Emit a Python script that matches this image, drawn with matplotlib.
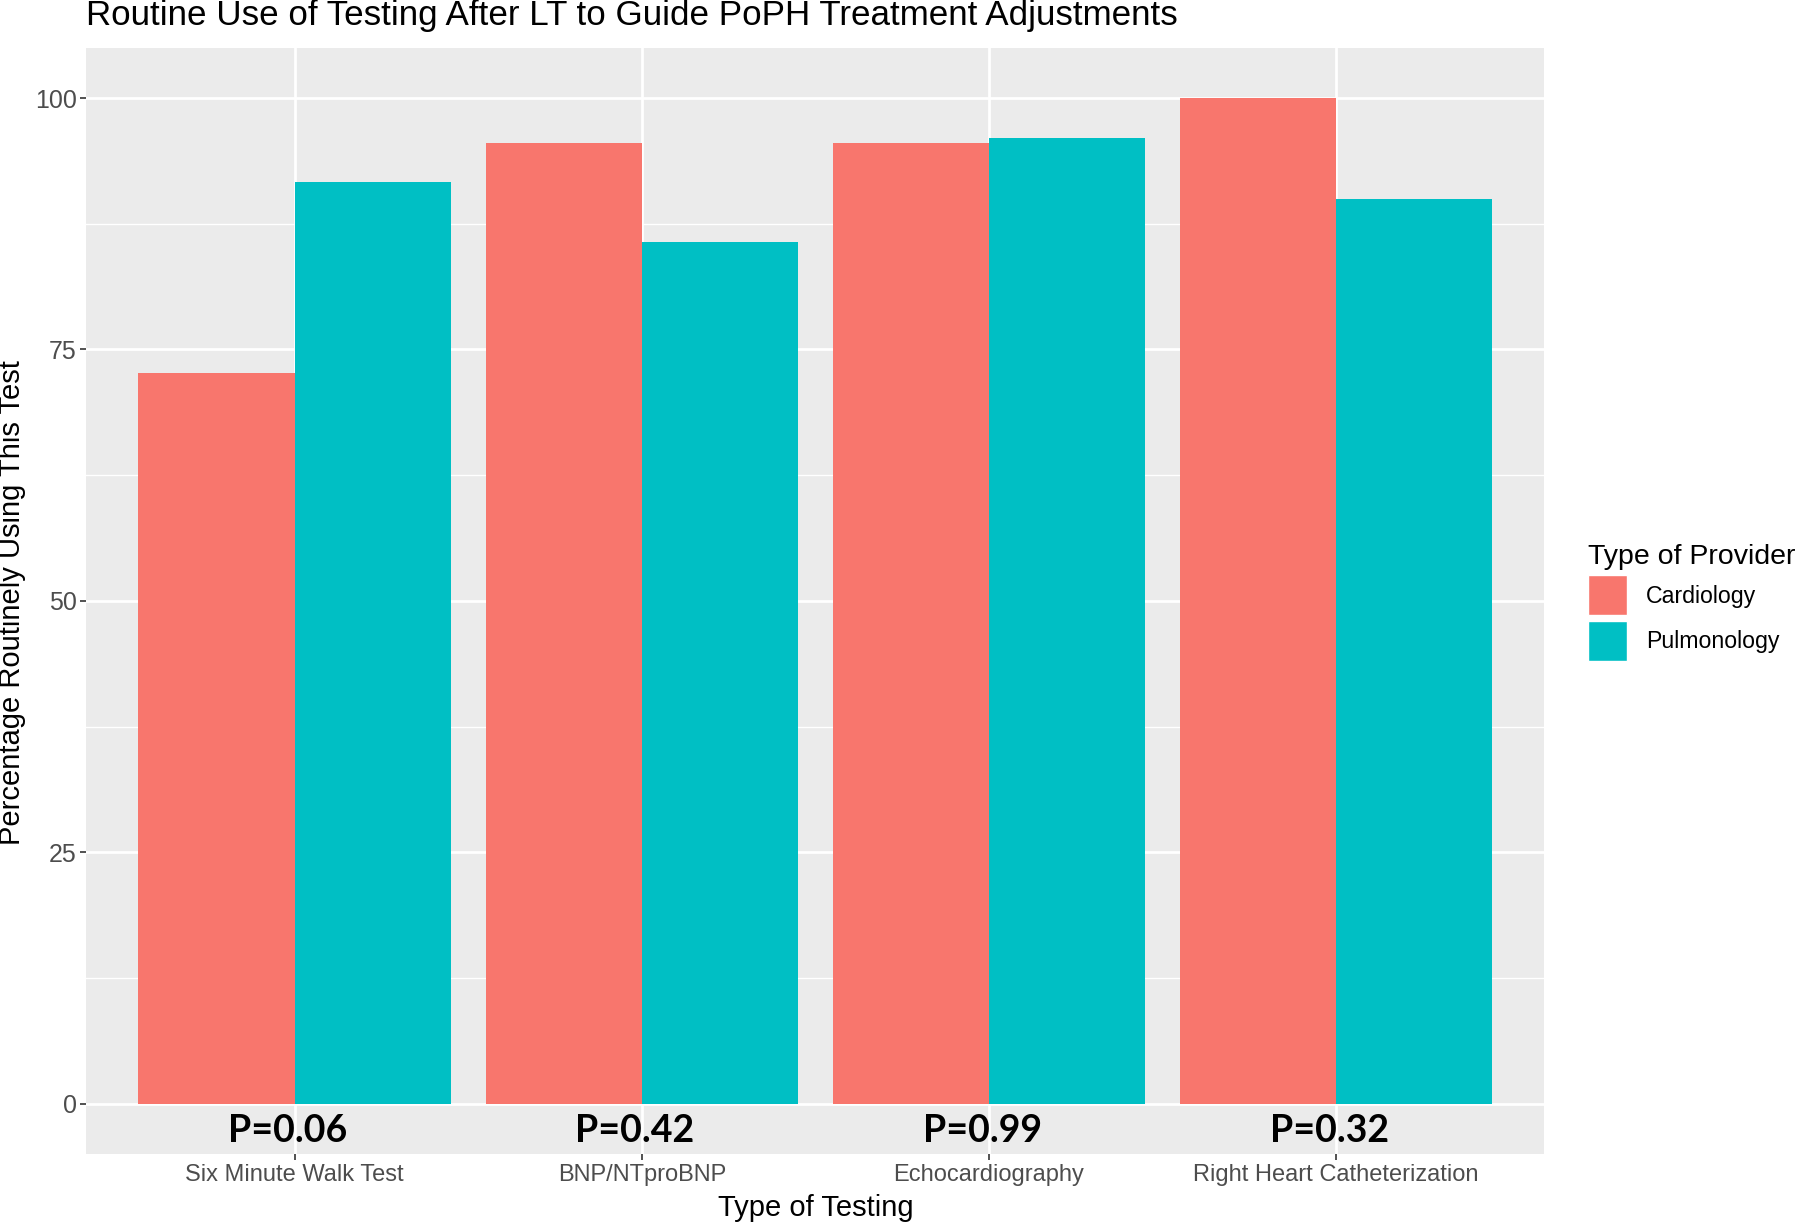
import numpy as np
import matplotlib.pyplot as plt
from matplotlib.patches import Patch

# Daten
categories = ['Six Minute Walk Test', 'BNP/NTproBNP', 'Echocardiography', 'Right Heart Catheterization']
cardiology = [72.7, 95.5, 95.5, 100.0]
pulmonology = [91.7, 85.7, 96.0, 90.0]
p_values = ['P=0.06', 'P=0.42', 'P=0.99', 'P=0.32']
providers = ['Cardiology', 'Pulmonology']
yticks = [0, 25, 50, 75, 100]

col_card = '#F8766D'
col_pulm = '#00BFC4'

plt.rcParams['font.family'] = ['Liberation Sans', 'DejaVu Sans']

fig = plt.figure(figsize=(18, 12.25), dpi=100)
ax = fig.add_axes([0.048, 0.058, 0.81, 0.903])
ax.set_facecolor('#EBEBEB')

x = np.arange(1, len(categories) + 1)
w = 0.45
ax.bar(x - w / 2, cardiology, w, color=col_card)
ax.bar(x + w / 2, pulmonology, w, color=col_pulm)

ax.set_xlim(0.4, 4.6)
ax.set_ylim(-5, 105)
ax.set_xticks(x)
ax.set_xticklabels(categories)
ax.set_yticks(yticks)
ax.set_yticks([12.5, 37.5, 62.5, 87.5], minor=True)

# cuadricula estilo ggplot
ax.set_axisbelow(True)
ax.grid(which='major', color='white', linewidth=2)
ax.grid(which='minor', axis='y', color='white', linewidth=1)
for s in ax.spines.values():
    s.set_visible(False)
ax.tick_params(which='major', length=4, width=1.2, color='#333333',
               labelcolor='#4D4D4D', pad=3)
ax.tick_params(axis='x', labelsize=17)
ax.tick_params(axis='y', labelsize=18)
ax.tick_params(which='minor', length=0)

# valores P
for xi, p in zip(x, p_values):
    ax.text(xi - 0.02, -2.7, p, ha='center', va='center', fontsize=27, fontweight='bold',
            family=['Lato', 'Open Sans'], color='black')

fig.text(86 / 1800, 1 - 15 / 1225, 'Routine Use of Testing After LT to Guide PoPH Treatment Adjustments',
         ha='left', va='center', fontsize=25.2)
fig.text(12 / 1800, 0.508, 'Percentage Routinely Using This Test', rotation=90,
         ha='center', va='center', fontsize=21)
fig.text(0.453, 1 - 1208 / 1225, 'Type of Testing', ha='center', va='center', fontsize=21)

handles = [Patch(facecolor=col_card, edgecolor='white'), Patch(facecolor=col_pulm, edgecolor='white')]
leg = fig.legend(handles, providers, loc='upper left', bbox_to_anchor=(1576 / 1800, 1 - 532 / 1225),
                 title='Type of Provider', frameon=False, fontsize=16.7, title_fontsize=20.5,
                 handlelength=1.72, handleheight=2.27, labelspacing=0.25, handletextpad=0.8,
                 borderpad=0, alignment='left')

fig.savefig('out.png', dpi=100)
